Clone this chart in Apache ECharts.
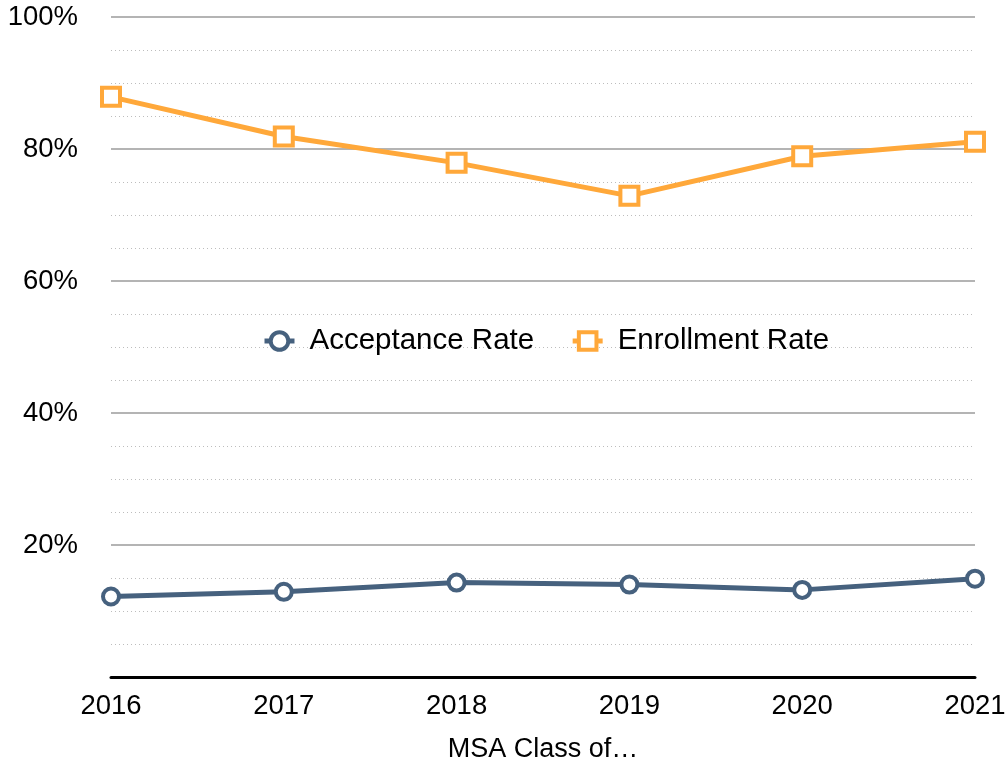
<!DOCTYPE html>
<html>
<head>
<meta charset="utf-8">
<script src="https://cdn.jsdelivr.net/npm/echarts@6/dist/echarts.min.js"></script>
<style>
  html, body { margin: 0; padding: 0; background: #fff; }
  #chart { width: 1005px; height: 767px; }
</style>
</head>
<body>
<div id="chart"></div>
<script>
// Data
const years = ['2016', '2017', '2018', '2019', '2020', '2021'];
const acceptanceRate = [12.2, 12.9, 14.3, 14.0, 13.2, 14.9];
const enrollmentRate = [87.9, 81.9, 77.9, 72.9, 78.9, 81.1];
const yTicks = [0, 20, 40, 60, 80, 100];

const slate = '#46617e';
const orange = '#ffa83a';
const font = 'Liberation Sans, Arial, Helvetica, sans-serif';

const chart = echarts.init(document.getElementById('chart'));

chart.setOption({
  animation: false,
  textStyle: { fontFamily: font },
  legend: {
    top: 326,
    left: 262,
    padding: 0,
    itemWidth: 30,
    itemHeight: 22,
    itemGap: 36,
    itemStyle: { borderWidth: 4 },
    lineStyle: { width: 5 },
    textStyle: { fontSize: 29.5, color: '#000', fontFamily: font, padding: [0, 0, 0, 10] },
    data: ['Acceptance Rate', 'Enrollment Rate']
  },
  grid: { left: 111, right: 30, top: 17, bottom: 90, outerBoundsMode: 'none' },
  xAxis: {
    type: 'category',
    data: years,
    boundaryGap: false,
    name: 'MSA Class of…',
    nameLocation: 'middle',
    nameGap: 59,
    nameTextStyle: { fontSize: 27, color: '#000', fontFamily: font },
    axisLine: { lineStyle: { color: '#000', width: 3 } },
    axisTick: { show: false },
    axisLabel: { fontSize: 27.5, color: '#000', margin: 15, fontFamily: font }
  },
  yAxis: {
    type: 'value',
    min: yTicks[0],
    max: yTicks[yTicks.length - 1],
    interval: 20,
    axisLine: { show: false },
    axisTick: { show: false },
    axisLabel: {
      fontSize: 27.5,
      color: '#000',
      margin: 33,
      fontFamily: font,
      formatter: v => (v === 0 ? '' : v + '%')
    },
    splitLine: { lineStyle: { color: '#b4b4b4', width: 2 } },
    minorTick: { show: false, splitNumber: 4 },
    minorSplitLine: { show: true, lineStyle: { color: '#bdbdbd', width: 1, type: [1, 3] } }
  },
  series: [
    {
      name: 'Acceptance Rate',
      type: 'line',
      data: acceptanceRate,
      symbol: 'circle',
      symbolSize: 16,
      lineStyle: { color: slate, width: 5 },
      itemStyle: { color: '#fff', borderColor: slate, borderWidth: 4 },
      z: 3
    },
    {
      name: 'Enrollment Rate',
      type: 'line',
      data: enrollmentRate,
      symbol: 'rect',
      symbolSize: 18,
      lineStyle: { color: orange, width: 5 },
      itemStyle: { color: '#fff', borderColor: orange, borderWidth: 4 },
      z: 3
    }
  ]
});
</script>
</body>
</html>
